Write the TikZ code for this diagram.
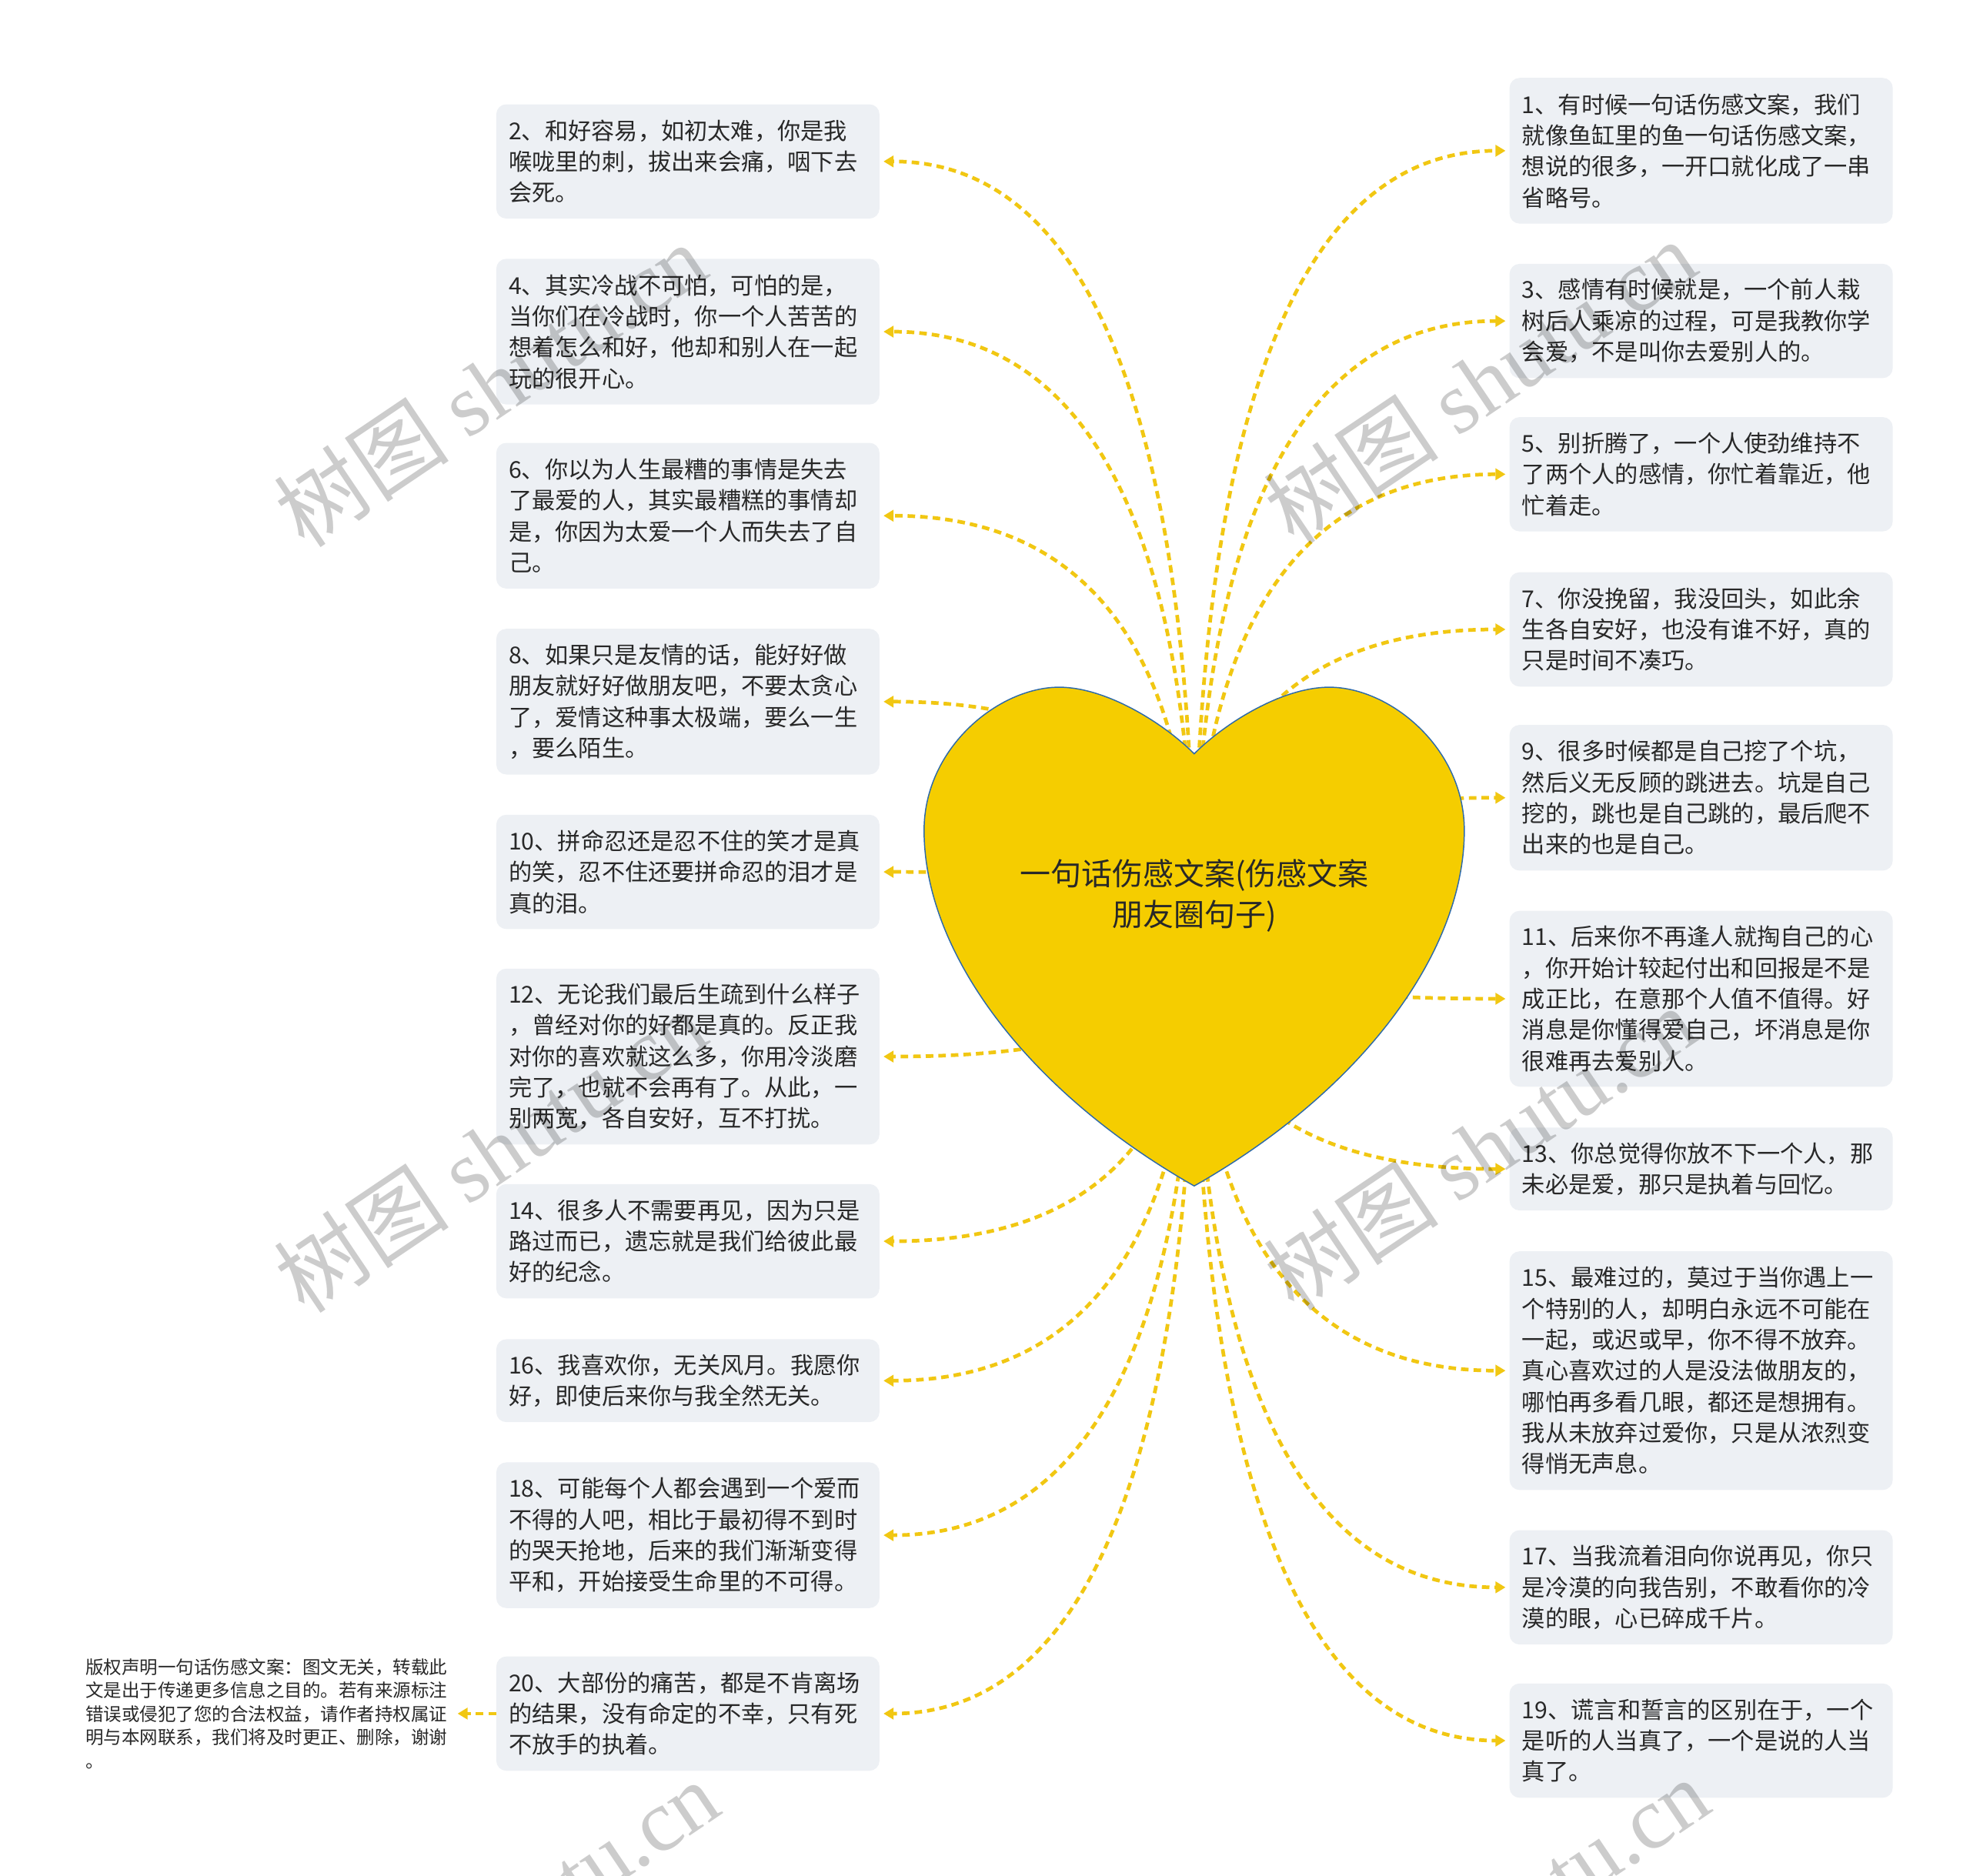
\documentclass[tikz,border=0pt]{standalone}
\usepackage{fontspec}
\setmainfont{Noto Sans CJK SC}
\newfontfamily\wmfont{Liberation Serif}
\usepackage{tikz}
\usetikzlibrary{arrows.meta}
\usetikzlibrary{calc}
\definecolor{heartfill}{RGB}{245,205,0}
\definecolor{heartline}{RGB}{46,106,168}
\definecolor{linkc}{RGB}{241,199,18}
\definecolor{boxfill}{RGB}{237,240,244}
\definecolor{inkc}{RGB}{40,40,40}

\begin{document}
\begin{tikzpicture}[x=1pt,y=-1pt]
	\def \leftx{547.5}
	\def \rightx{1354}
	\tikzstyle{t-node}=[rectangle,rounded corners=8pt,fill=boxfill,text=inkc,text width=285pt,inner xsep=10pt,inner ysep=0pt,align=left,font=\fontsize{18.5}{24.7}\selectfont]
	\tikzstyle{link}=[draw=linkc,line width=2.9pt,dash pattern=on 6pt off 4pt,-{Triangle[length=8pt,width=9pt]},shorten >=3pt,
		to path={.. controls ($(\tikztostart)!0.667!(\tikztostart |- \tikztotarget)$) and ($(\tikztotarget)!0.667!(\tikztostart |- \tikztotarget)$) .. (\tikztotarget)}]
	\tikzstyle{wm}=[text=black,text opacity=0.2,rotate=34,font=\fontsize{70}{70}\selectfont]
	\useasboundingbox (0,0) rectangle (1568,1493);

	% left column
	\node[t-node,minimum height=91pt]  (b2)  at (\leftx,128.5) {2、和好容易，如初太难，你是我\\喉咙里的刺，拔出来会痛，咽下去\\会死。};
	\node[t-node,minimum height=116pt] (b4)  at (\leftx,264)   {4、其实冷战不可怕，可怕的是，\\当你们在冷战时，你一个人苦苦的\\想着怎么和好，他却和别人在一起\\玩的很开心。};
	\node[t-node,minimum height=116pt] (b6)  at (\leftx,410.5) {6、你以为人生最糟的事情是失去\\了最爱的人，其实最糟糕的事情却\\是，你因为太爱一个人而失去了自\\己。};
	\node[t-node,minimum height=116pt] (b8)  at (\leftx,558.5) {8、如果只是友情的话，能好好做\\朋友就好好做朋友吧，不要太贪心\\了，爱情这种事太极端，要么一生\\，要么陌生。};
	\node[t-node,minimum height=91pt]  (b10) at (\leftx,694)   {10、拼命忍还是忍不住的笑才是真\\的笑，忍不住还要拼命忍的泪才是\\真的泪。};
	\node[t-node,minimum height=140pt] (b12) at (\leftx,841)   {12、无论我们最后生疏到什么样子\\，曾经对你的好都是真的。反正我\\对你的喜欢就这么多，你用冷淡磨\\完了，也就不会再有了。从此，一\\别两宽，各自安好，互不打扰。};
	\node[t-node,minimum height=91pt]  (b14) at (\leftx,988)   {14、很多人不需要再见，因为只是\\路过而已，遗忘就是我们给彼此最\\好的纪念。};
	\node[t-node,minimum height=66pt]  (b16) at (\leftx,1099)  {16、我喜欢你，无关风月。我愿你\\好，即使后来你与我全然无关。};
	\node[t-node,minimum height=116pt] (b18) at (\leftx,1222)  {18、可能每个人都会遇到一个爱而\\不得的人吧，相比于最初得不到时\\的哭天抢地，后来的我们渐渐变得\\平和，开始接受生命里的不可得。};
	\node[t-node,minimum height=91pt]  (b20) at (\leftx,1364)  {20、大部份的痛苦，都是不肯离场\\的结果，没有命定的不幸，只有死\\不放手的执着。};

	% right column
	\node[t-node,minimum height=116pt] (b1)  at (\rightx,120)    {1、有时候一句话伤感文案，我们\\就像鱼缸里的鱼一句话伤感文案，\\想说的很多，一开口就化成了一串\\省略号。};
	\node[t-node,minimum height=91pt]  (b3)  at (\rightx,255.5)  {3、感情有时候就是，一个前人栽\\树后人乘凉的过程，可是我教你学\\会爱，不是叫你去爱别人的。};
	\node[t-node,minimum height=91pt]  (b5)  at (\rightx,377.5)  {5、别折腾了，一个人使劲维持不\\了两个人的感情，你忙着靠近，他\\忙着走。};
	\node[t-node,minimum height=91pt]  (b7)  at (\rightx,501)    {7、你没挽留，我没回头，如此余\\生各自安好，也没有谁不好，真的\\只是时间不凑巧。};
	\node[t-node,minimum height=116pt] (b9)  at (\rightx,635)    {9、很多时候都是自己挖了个坑，\\然后义无反顾的跳进去。坑是自己\\挖的，跳也是自己跳的，最后爬不\\出来的也是自己。};
	\node[t-node,minimum height=140pt] (b11) at (\rightx,795)    {11、后来你不再逢人就掏自己的心\\，你开始计较起付出和回报是不是\\成正比，在意那个人值不值得。好\\消息是你懂得爱自己，坏消息是你\\很难再去爱别人。};
	\node[t-node,minimum height=66pt]  (b13) at (\rightx,930.5)  {13、你总觉得你放不下一个人，那\\未必是爱，那只是执着与回忆。};
	\node[t-node,minimum height=190pt] (b15) at (\rightx,1091)   {15、最难过的，莫过于当你遇上一\\个特别的人，却明白永远不可能在\\一起，或迟或早，你不得不放弃。\\真心喜欢过的人是没法做朋友的，\\哪怕再多看几眼，都还是想拥有。\\我从未放弃过爱你，只是从浓烈变\\得悄无声息。};
	\node[t-node,minimum height=91pt]  (b17) at (\rightx,1263.5) {17、当我流着泪向你说再见，你只\\是冷漠的向我告别，不敢看你的冷\\漠的眼，心已碎成千片。};
	\node[t-node,minimum height=91pt]  (b19) at (\rightx,1385.5) {19、谎言和誓言的区别在于，一个\\是听的人当真了，一个是说的人当\\真了。};

	% note
	\node[text=inkc,text width=289pt,inner xsep=4pt,inner ysep=0pt,align=left,font=\fontsize{14.4}{18.7}\selectfont] (copy) at (212.5,1364)
		{版权声明一句话伤感文案：图文无关，转载此\\文是出于传递更多信息之目的。若有来源标注\\错误或侵犯了您的合法权益，请作者持权属证\\明与本网联系，我们将及时更正、删除，谢谢\\。};

	% links (they start in the middle of the heart)
	\coordinate (hc) at (950.5,745);
	\path (hc) edge[link] (b2.east)
		(hc) edge[link] (b4.east)
		(hc) edge[link] (b6.east)
		(hc) edge[link] (b8.east)
		(hc) edge[link] (b10.east)
		(hc) edge[link] (b12.east)
		(hc) edge[link] (b14.east)
		(hc) edge[link] (b16.east)
		(hc) edge[link] (b18.east)
		(hc) edge[link] (b20.east);
	\path (hc) edge[link] (b1.west)
		(hc) edge[link] (b3.west)
		(hc) edge[link] (b5.west)
		(hc) edge[link] (b7.west)
		(hc) edge[link] (b9.west)
		(hc) edge[link] (b11.west)
		(hc) edge[link] (b13.west)
		(hc) edge[link] (b15.west)
		(hc) edge[link] (b17.west)
		(hc) edge[link] (b19.west);
	\path (b20.west) edge[link,to path={-- (\tikztotarget)}] (copy.east);

	% heart
	\path[fill=heartfill,draw=heartline,line width=0.9pt] (950.5,600)
		.. controls (925.5,575) and (880,547) .. (843,547)
		.. controls (795,547) and (735.5,595) .. (735.5,661)
		.. controls (735.5,760) and (820,870) .. (950.5,944)
		.. controls (1081,870) and (1165.5,760) .. (1165.5,661)
		.. controls (1165.5,595) and (1106,547) .. (1058,547)
		.. controls (1021,547) and (975.5,575) .. (950.5,600) -- cycle;
	\node[text=inkc,align=center,font=\fontsize{24.5}{32}\selectfont] (title) at (950.5,713) {一句话伤感文案(伤感文案\\朋友圈句子)};

	% watermark
	\begin{scope}
		\clip (0,0) rectangle (1568,1493);
		\node[wm] (wm1) at (390,306)   {树图 {\wmfont shutu.cn}};
		\node[wm] (wm2) at (1178,304)  {树图 {\wmfont shutu.cn}};
		\node[wm] (wm3) at (390,916)   {树图 {\wmfont shutu.cn}};
		\node[wm] (wm4) at (1178,914)  {树图 {\wmfont shutu.cn}};
		\node[wm] (wm5) at (400,1530)  {树图 {\wmfont shutu.cn}};
		\node[wm] (wm6) at (1188,1528) {树图 {\wmfont shutu.cn}};
	\end{scope}
\end{tikzpicture}
\end{document}
